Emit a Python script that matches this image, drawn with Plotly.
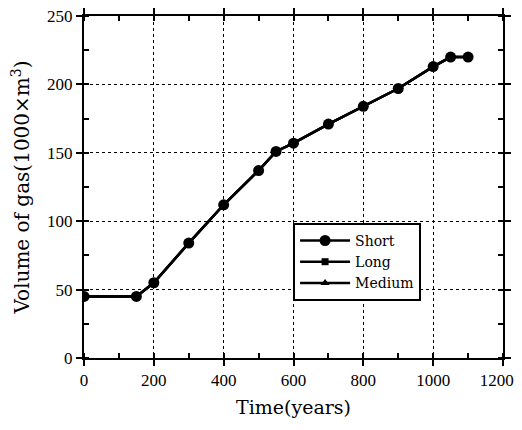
import plotly.graph_objects as go

time_years = [0, 150, 200, 300, 400, 500, 550, 600, 700, 800, 900, 1000, 1050, 1100]
short_vol = [45, 45, 55, 84, 112, 137, 151, 157, 171, 184, 197, 213, 220, 220]
long_vol = [45, 45, 55, 84, 112, 137, 151, 157, 171, 184, 197, 213, 220, 220]
medium_vol = [45, 45, 55, 84, 112, 137, 151, 157, 171, 184, 197, 213, 220, 220]

x_ticks = [0, 200, 400, 600, 800, 1000, 1200]
# the last label sits slightly left of its tick in the reference (padded with no-break spaces)
x_tick_labels = ["0", "200", "400", "600", "800", "1000", "1200\u00a0\u00a0\u00a0"]
y_ticks = [0, 50, 100, 150, 200, 250]

TICK_FONT = "Liberation Serif"
FONT = "DejaVu Serif"

fig = go.Figure()
fig.add_trace(go.Scatter(x=time_years, y=medium_vol, name="Medium", mode="lines+markers",
                         line=dict(color="black", width=2.5),
                         marker=dict(symbol="triangle-up", size=8, color="black")))
fig.add_trace(go.Scatter(x=time_years, y=long_vol, name="Long", mode="lines+markers",
                         line=dict(color="black", width=2.5),
                         marker=dict(symbol="square", size=7, color="black")))
fig.add_trace(go.Scatter(x=time_years, y=short_vol, name="Short", mode="lines+markers",
                         line=dict(color="black", width=2.5),
                         marker=dict(symbol="circle", size=11, color="black")))

axis_common = dict(
    showline=True, linecolor="black", linewidth=2, mirror="ticks",
    ticks="outside", ticklen=6, tickwidth=2, tickcolor="black",
    showgrid=True, gridcolor="black", gridwidth=1, griddash="dot",
    zeroline=False, automargin=False, ticklabeloverflow="allow",
    tickfont=dict(family=TICK_FONT, size=17, color="black"),
)

fig.update_xaxes(range=[0, 1200], tickvals=x_ticks, ticktext=x_tick_labels,
                 minor=dict(dtick=100, ticks="inside", ticklen=5, tickcolor="black", tickwidth=1.5, showgrid=False),
                 title=dict(text="Time(years)", font=dict(family=FONT, size=19, color="black")),
                 **axis_common)
fig.update_yaxes(range=[0, 250], tickvals=y_ticks,
                 minor=dict(dtick=25, ticks="inside", ticklen=5, tickcolor="black", tickwidth=1.5, showgrid=False),
                 title=dict(text="Volume of gas(1000×m<sup>3</sup>)", font=dict(family=FONT, size=20, color="black")),
                 **axis_common)

# page body adds an 8px margin on every side, so the figure is kept smaller than the window
fig.update_layout(
    width=514, height=410,
    margin=dict(l=76, r=19, t=8, b=60),
    paper_bgcolor="white", plot_bgcolor="white",
    legend=dict(x=0.499, y=0.395, xanchor="left", yanchor="top",
                bgcolor="white", bordercolor="black", borderwidth=2,
                traceorder="reversed",
                font=dict(family=FONT, size=14, color="black"),
                tracegroupgap=0, itemwidth=50),
    showlegend=True,
)

fig.write_html("out.html")
